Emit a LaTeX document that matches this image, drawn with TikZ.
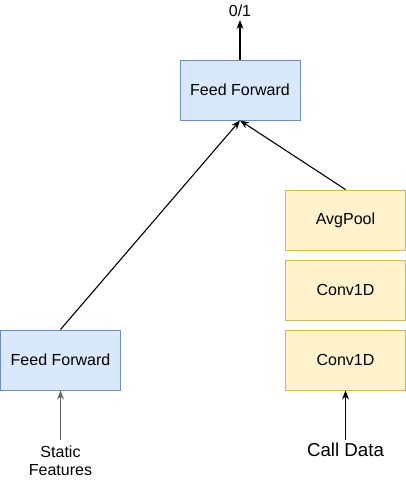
\documentclass[tikz,border=0pt]{standalone}
\usepackage{fontspec}
\setmainfont{Liberation Sans}
\usetikzlibrary{arrows.meta}
\definecolor{bluefill}{HTML}{DAE8FC}
\definecolor{blueline}{HTML}{6C8EBF}
\definecolor{yelfill}{HTML}{FFF2CC}
\definecolor{yelline}{HTML}{D6B656}
\begin{document}
\begin{tikzpicture}[x=1pt,y=-1pt,
  bluebox/.style={draw=blueline,fill=bluefill,line width=1pt,minimum width=120pt,minimum height=60pt,inner sep=0pt,font=\fontsize{16}{18}\selectfont},
  yelbox/.style={draw=yelline,fill=yelfill,line width=1pt,minimum width=120pt,minimum height=60pt,inner sep=0pt,font=\fontsize{16}{18}\selectfont},
  lbl/.style={inner sep=0pt,align=center},
  arr/.style={-{Stealth[length=9pt,width=7pt]},line width=1.1pt}]
\useasboundingbox (0,0) rectangle (406,480);
\node[bluebox] (top) at (240,90) {Feed Forward};
\node[bluebox] (left) at (60.5,360) {Feed Forward};
\node[yelbox] (avg) at (345.5,220) {AvgPool};
\node[yelbox] (c2) at (345.5,290) {Conv1D};
\node[yelbox] (c1) at (345.5,360) {Conv1D};
\node[lbl,font=\fontsize{16}{18}\selectfont] (out) at (240,11) {0/1};
\coordinate (outb) at (240,20);
\node[lbl,font=\fontsize{16}{18.5}\selectfont] (sf) at (60.5,461) {Static\\Features};
\coordinate (sft) at (60.5,440);
\node[lbl,font=\fontsize{18.7}{21}\selectfont] (cd) at (345.5,450) {Call Data};
\coordinate (cdt) at (345.5,440);
\draw[arr] (top.north) -- (outb);
\draw[arr] (left.north) -- (top.south);
\draw[arr] (avg.north) -- (top.south);
\draw[arr,draw=black!60,fill=black] (sft) -- (left.south);
\draw[arr] (cdt) -- (c1.south);
\end{tikzpicture}
\end{document}
